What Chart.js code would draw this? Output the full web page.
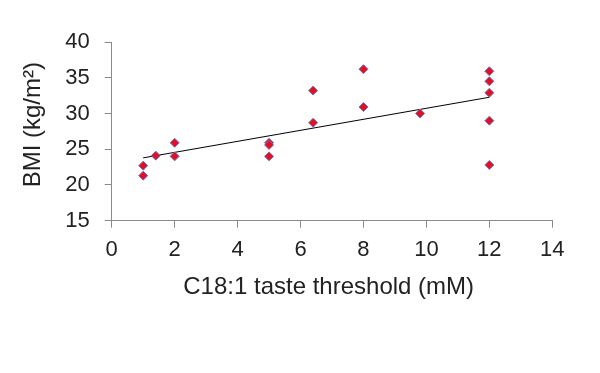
<!DOCTYPE html>
<html>
<head>
<meta charset="utf-8">
<script src="https://cdn.jsdelivr.net/npm/chart.js@4/dist/chart.umd.min.js"></script>
<style>
  html, body { margin: 0; padding: 0; background: #ffffff; }
  #wrap { width: 600px; height: 373px; }
</style>
</head>
<body>
<div id="wrap"><canvas id="c" width="600" height="373"></canvas></div>
<script>
// Data
const thresholds = [1, 1, 1.4, 2, 2, 5, 5, 5, 6.4, 6.4, 8, 8, 9.8, 12, 12, 12, 12, 12];
const bmiValues  = [22.7, 21.3, 24.1, 25.9, 24.0, 25.9, 25.6, 24.0, 33.2, 28.7, 36.2, 30.9, 30.0, 35.9, 34.5, 32.9, 29.0, 22.8];
const xTicks = [0, 2, 4, 6, 8, 10, 12, 14];
const yTicks = [15, 20, 25, 30, 35, 40];
const xTitle = 'C18:1 taste threshold (mM) ';
const yTitle = '  BMI (kg/m²)';

// Linear least-squares trend line computed from the data
function trend(xs, ys) {
  const n = xs.length;
  const mx = xs.reduce((a, b) => a + b, 0) / n;
  const my = ys.reduce((a, b) => a + b, 0) / n;
  let sxy = 0, sxx = 0;
  for (let i = 0; i < n; i++) { sxy += (xs[i] - mx) * (ys[i] - my); sxx += (xs[i] - mx) ** 2; }
  const b = sxy / sxx, a = my - b * mx;
  const x0 = Math.min(...xs), x1 = Math.max(...xs);
  return [{ x: x0, y: a + b * x0 }, { x: x1, y: a + b * x1 }];
}

const points = thresholds.map((x, i) => ({ x: x, y: bmiValues[i] }));
const fontFam = '"Liberation Sans", Arial, sans-serif';
const axisGray = '#8a8a8a';
const textColor = '#222222';

new Chart(document.getElementById('c'), {
  type: 'scatter',
  data: {
    datasets: [
      {
        type: 'line',
        data: trend(thresholds, bmiValues),
        borderColor: '#000000',
        borderWidth: 1,
        pointRadius: 0,
        fill: false,
        order: 2
      },
      {
        data: points,
        pointStyle: 'rectRot',
        pointRadius: 4.5,
        backgroundColor: '#e4101f',
        borderColor: '#6a72c4',
        borderWidth: 1,
        order: 1
      }
    ]
  },
  options: {
    responsive: false,
    animation: false,
    devicePixelRatio: 1,
    layout: { padding: { left: 0, top: 42, right: 47.7, bottom: 71.1 } },
    plugins: { legend: { display: false }, tooltip: { enabled: false } },
    scales: {
      x: {
        type: 'linear',
        min: xTicks[0],
        max: xTicks[xTicks.length - 1],
        afterBuildTicks: (s) => { s.ticks = xTicks.map(v => ({ value: v })); },
        afterFit: (s) => { s.height = 81.2; },
        grid: { display: true, drawOnChartArea: false, drawTicks: true, tickLength: 7, color: axisGray },
        border: { display: true, color: axisGray, width: 1 },
        ticks: { color: textColor, padding: 9, font: { family: fontFam, size: 22 } },
        title: { display: true, text: xTitle, color: textColor, padding: 0, font: { family: fontFam, size: 24 } }
      },
      y: {
        type: 'linear',
        min: yTicks[0],
        max: yTicks[yTicks.length - 1],
        afterBuildTicks: (s) => { s.ticks = yTicks.map(v => ({ value: v })); },
        afterFit: (s) => { s.width = 111.7; },
        grid: { display: true, drawOnChartArea: false, drawTicks: true, tickLength: 7, color: axisGray },
        border: { display: true, color: axisGray, width: 1 },
        ticks: { color: textColor, padding: 15, font: { family: fontFam, size: 22 } },
        title: { display: true, text: yTitle, color: textColor, padding: { top: 19, bottom: 0 }, font: { family: fontFam, size: 24 } }
      }
    }
  }
});
</script>
</body>
</html>
